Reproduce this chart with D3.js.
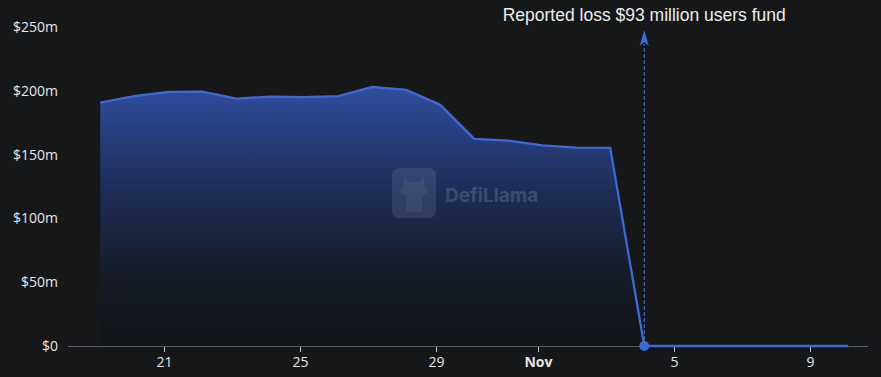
<!DOCTYPE html>
<html><head><meta charset="utf-8">
<script src="https://cdn.jsdelivr.net/npm/d3@7"></script>
<style>
html,body{margin:0;padding:0;background:#161719;}
svg{display:block;}
</style></head>
<body><svg id="c" width="881" height="377"></svg>
<script>
const dates = ["2022-10-19","2022-10-20","2022-10-21","2022-10-22","2022-10-23","2022-10-24","2022-10-25","2022-10-26","2022-10-27","2022-10-28","2022-10-29","2022-10-30","2022-10-31","2022-11-01","2022-11-02","2022-11-03","2022-11-04","2022-11-05","2022-11-06","2022-11-07","2022-11-08","2022-11-09","2022-11-10"];
const tvl = [190.7,195.8,199.2,199.4,193.8,195.5,195.0,195.8,203.1,200.7,189.0,162.3,161.0,157.2,155.4,155.3,0,0,0,0,0,0,0];
const yTicks = [0,50,100,150,200,250];
const xTickDates = ["2022-10-21","2022-10-25","2022-10-29","2022-11-01","2022-11-05","2022-11-09"];
const annotationDate = "2022-11-04";
const annotationText = "Reported loss $93 million users fund";

const pointHourOffset = 3; // data stamps fall ~3h after local midnight
const parse = s => new Date(s + "T00:00:00Z");
const data = dates.map((d,i)=>({date:new Date(parse(d).getTime()+pointHourOffset*3600e3), v:tvl[i]}));

const svg = d3.select("#c");
const x = d3.scaleUtc().domain([parse("2022-10-21"), parse("2022-11-09")]).range([164,810]);
const y = d3.scaleLinear().domain([0,250]).range([346,27]);

const defs = svg.append("defs");
const g = defs.append("linearGradient").attr("id","fillG").attr("gradientUnits","userSpaceOnUse")
  .attr("x1",0).attr("x2",0).attr("y1",y(203)).attr("y2",y(0));
g.append("stop").attr("offset","0%").attr("stop-color","#2f4d9e");
g.append("stop").attr("offset","40%").attr("stop-color","#1e2d57");
g.append("stop").attr("offset","75%").attr("stop-color","#141a24");
g.append("stop").attr("offset","100%").attr("stop-color","#111317");

// x axis line
svg.append("line").attr("x1",68).attr("x2",868).attr("y1",y(0)+0.5).attr("y2",y(0)+0.5)
  .attr("stroke","#5a5c61").attr("stroke-width",1);

// area
const area = d3.area().x(d=>x(d.date)).y0(y(0)).y1(d=>y(d.v));
svg.append("path").datum(data).attr("d",area).attr("fill","url(#fillG)");

// watermark
const wm = svg.append("g").attr("opacity",0.18);
wm.append("rect").attr("x",392).attr("y",168).attr("width",44).attr("height",50).attr("rx",7)
  .attr("fill","#8b9cc4");
wm.append("path").attr("d","M404 176 L408 182 L420 182 L424 176 L424 186 L428 192 L422 196 L422 212 L406 212 L406 196 L400 192 L404 186 Z")
  .attr("fill","#c7d2ec");
wm.append("text").attr("x",445).attr("y",201.5).text("DefiLlama")
  .attr("font-family","Inter, 'Open Sans', sans-serif").attr("font-weight",700).attr("font-size",19)
  .attr("fill","#c7d2ec");

// line
const line = d3.line().x(d=>x(d.date)).y(d=>y(d.v));
svg.append("path").datum(data).attr("d",line).attr("fill","none")
  .attr("stroke","#3d69d8").attr("stroke-width",2.3).attr("stroke-linejoin","round");

// annotation
const ad = data.find(d=>+d.date === parse(annotationDate).getTime()+pointHourOffset*3600e3);
const ax = x(ad.date);
svg.append("line").attr("x1",ax).attr("x2",ax).attr("y1",y(ad.v)).attr("y2",44)
  .attr("stroke","#4a78e0").attr("stroke-width",1).attr("stroke-dasharray","4,2");
svg.append("path").attr("d",`M${ax} 30 L${ax+4.5} 46 L${ax} 42 L${ax-4.5} 46 Z`).attr("fill","#3d6ad8");
svg.append("circle").attr("cx",ax).attr("cy",y(ad.v)).attr("r",5).attr("fill","#3d69d8");
svg.append("text").attr("x",ax).attr("y",21).attr("text-anchor","middle").text(annotationText)
  .attr("font-family","'Liberation Sans', Arial, sans-serif").attr("font-size",17.5).attr("fill","#ececec");

// y axis labels
svg.append("g").selectAll("text").data(yTicks).join("text")
  .attr("x",58).attr("y",d=>y(d)).attr("dy","0.35em").attr("text-anchor","end")
  .attr("font-family","'Open Sans', 'Noto Sans', sans-serif").attr("font-size",14).attr("fill","#e6e6e6")
  .text(d=>d===0?"$0":"$"+d+"m");

// x ticks
const xt = svg.append("g");
xTickDates.forEach(s=>{
  const dt = parse(s), px = Math.round(x(dt))+0.5;
  const isMonth = dt.getUTCDate()===1;
  xt.append("line").attr("x1",px).attr("x2",px).attr("y1",y(0)+1).attr("y2",y(0)+6).attr("stroke","#bdbdbd");
  xt.append("text").attr("x",px).attr("y",367).attr("text-anchor","middle")
    .attr("font-family","'Open Sans', 'Noto Sans', sans-serif").attr("font-size",14)
    .attr("font-weight",isMonth?700:400).attr("fill","#e6e6e6")
    .text(isMonth?d3.utcFormat("%b")(dt):d3.utcFormat("%-d")(dt));
});
</script></body></html>
